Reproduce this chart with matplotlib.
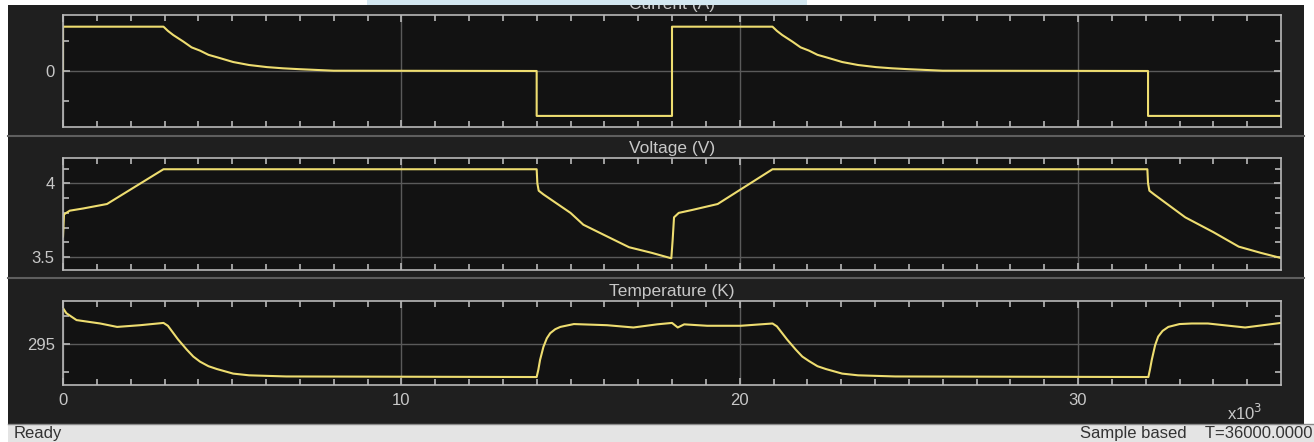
import matplotlib
matplotlib.use("Agg")
import matplotlib.pyplot as plt
from matplotlib.patches import Rectangle
from matplotlib.lines import Line2D

plt.rcParams['font.family'] = ['Liberation Sans', 'DejaVu Sans']

# ---- data (time in seconds) ----
t_current = [0, 0, 2970, 3100, 3260, 3560, 3800, 4050, 4300, 4550, 5030, 5500,
             6030, 6500, 7000, 8000, 14000, 14000, 18000, 18000,
             20970, 21100, 21260, 21560, 21800, 22050, 22300, 22550, 23030,
             23500, 24030, 24500, 25000, 26000, 32070, 32070, 36000]
current = [0, 1.48, 1.48, 1.34, 1.2, 0.98, 0.79, 0.68, 0.54, 0.46, 0.30, 0.20,
           0.13, 0.09, 0.06, 0.01, 0, -1.5, -1.5, 1.48,
           1.48, 1.34, 1.2, 0.98, 0.79, 0.68, 0.54, 0.46, 0.30,
           0.20, 0.13, 0.09, 0.06, 0.01, 0, -1.5, -1.5]

t_voltage = [0, 30, 200, 600, 1300, 2970, 14000, 14020, 14060, 14200, 15000,
             15380, 16000, 16730, 17400, 17980, 18020, 18060, 18200, 18600,
             19350, 20970, 32050, 32070, 32110, 32250, 33170, 34000, 34750,
             35400, 36000]
voltage = [3.64, 3.79, 3.815, 3.83, 3.86, 4.095, 4.095, 4.0, 3.95, 3.925, 3.80,
           3.72, 3.65, 3.568, 3.53, 3.493, 3.62, 3.77, 3.80, 3.82,
           3.86, 4.095, 4.095, 4.0, 3.95, 3.925, 3.77, 3.67, 3.572,
           3.53, 3.495]

t_temp = [0, 100, 400, 1100, 1600, 2280, 2970, 3100, 3400, 3660, 3850, 4050,
          4300, 4550, 5030, 5500, 6600, 14000, 14050, 14100, 14200, 14300,
          14400, 14550, 14700, 15100, 16080, 16860, 17560, 18000, 18170, 18360,
          19040, 20030, 20970, 21100, 21400, 21660, 21850, 22050, 22300, 22550,
          23030, 23500, 24600, 32080, 32130, 32180, 32280, 32370, 32500, 32670,
          33000, 33360, 33840, 34940, 36000]
temperature = [295.63, 295.54, 295.42, 295.36, 295.30, 295.33, 295.37, 295.32,
               295.08, 294.90, 294.78, 294.69, 294.61, 294.56, 294.48, 294.45,
               294.43, 294.42, 294.55, 294.72, 294.95, 295.10, 295.19, 295.26,
               295.30, 295.35, 295.33, 295.29, 295.345, 295.37, 295.29, 295.345,
               295.32, 295.32, 295.36, 295.31, 295.08, 294.90, 294.78, 294.70,
               294.61, 294.56, 294.48, 294.45, 294.43, 294.42, 294.56, 294.72,
               294.98, 295.13, 295.23, 295.30, 295.35, 295.36, 295.36, 295.29,
               295.37]

titles = ["Current (A)", "Voltage (V)", "Temperature (K)"]
ylims = [(-1.87, 1.87), (3.414, 4.171), (294.28, 295.755)]
major_y = [[0], [3.5, 4.0], [295]]
major_y_labels = [["0"], ["3.5", "4"], ["295"]]
minor_y = [[-1, 1],
           [3.6, 3.7, 3.8, 3.9, 4.1],
           [294.5, 295.5]]
x_major = [0, 10000, 20000, 30000]
x_labels = ["0", "10", "20", "30"]
x_minor = [k * 1000 for k in range(1, 36) if k % 10 != 0]

W, H = 1314, 442
fig = plt.figure(figsize=(W / 100, H / 100), dpi=100, facecolor='white')


def fr(x0, y0, w, h):
    # pixel box (top-left origin) -> figure fraction
    return [x0 / W, 1 - (y0 + h) / H, w / W, h / H]


def rect(x0, y0, w, h, color, z=-5):
    b = fr(x0, y0, w, h)
    fig.patches.append(Rectangle((b[0], b[1]), b[2], b[3], transform=fig.transFigure,
                                 facecolor=color, edgecolor='none', zorder=z))


def hline(y, x0, x1, color, lw=1.2):
    fig.lines.append(Line2D([x0 / W, x1 / W], [1 - y / H, 1 - y / H],
                            transform=fig.transFigure, color=color, lw=lw, zorder=-4))


# scope window background, status bar and top strip
rect(8, 0, 1296, 424, '#1f1f1f')
rect(8, 424, 1306, 18, '#e4e4e4')
hline(424, 8, 1314, '#8a8a8a', 1)
hline(135.5, 8, 1304, '#5e5e5e', 1.5)
hline(278, 8, 1304, '#5e5e5e', 1.5)

boxes = [(63, 15, 1218, 112), (63, 158, 1218, 112), (63, 301, 1218, 84)]
title_y = [5, 149, 291.5]
series = [(t_current, current), (t_voltage, voltage), (t_temp, temperature)]

line_col = '#eedd70'
edge_col = '#b8b8b8'
grid_col = '#5a5a5a'
text_col = '#c8c8c8'

for i in range(3):
    ax = fig.add_axes(fr(*boxes[i]))
    ax.set_zorder(1)
    ax.set_facecolor('#121212')
    t, v = series[i]
    ax.plot(t, v, color=line_col, lw=1.5)
    ax.set_xlim(0, 36000)
    ax.set_ylim(*ylims[i])
    for s in ax.spines.values():
        s.set_color(edge_col)
        s.set_linewidth(1.2)
    ax.set_xticks(x_major)
    ax.set_xticks(x_minor, minor=True)
    ax.set_yticks(major_y[i])
    ax.set_yticks(minor_y[i], minor=True)
    ax.set_yticklabels(major_y_labels[i])
    if i == 2:
        ax.set_xticklabels(x_labels)
    else:
        ax.set_xticklabels([])
    ax.tick_params(which='both', direction='in', top=True, right=True,
                   color=edge_col, labelcolor=text_col, labelsize=12, width=1.2)
    ax.tick_params(which='major', length=5, pad=6)
    ax.tick_params(which='minor', length=4)
    ax.grid(True, which='major', color=grid_col, lw=1)
    fig.text(672 / W, 1 - title_y[i] / H, titles[i], color=text_col,
             fontsize=12.5, ha='center', va='center', zorder=2)

fig.text(1245 / W, 1 - 413 / H, r'x10$^3$', color=text_col, fontsize=12,
         ha='center', va='center', zorder=2)
fig.text(14 / W, 1 - 433.5 / H, 'Ready', color='#333333', fontsize=12,
         ha='left', va='center', zorder=2)
fig.text(1312 / W, 1 - 433.5 / H, 'Sample based    T=36000.0000', color='#333333',
         fontsize=12, ha='right', va='center', zorder=2)

# light strip across the top edge
rect(0, 0, 367, 5, 'white', 10)
rect(367, 0, 440, 5, '#d4e8f1', 10)
rect(807, 0, 507, 5, 'white', 10)

fig.savefig('out.png', dpi=100, facecolor=fig.get_facecolor())
